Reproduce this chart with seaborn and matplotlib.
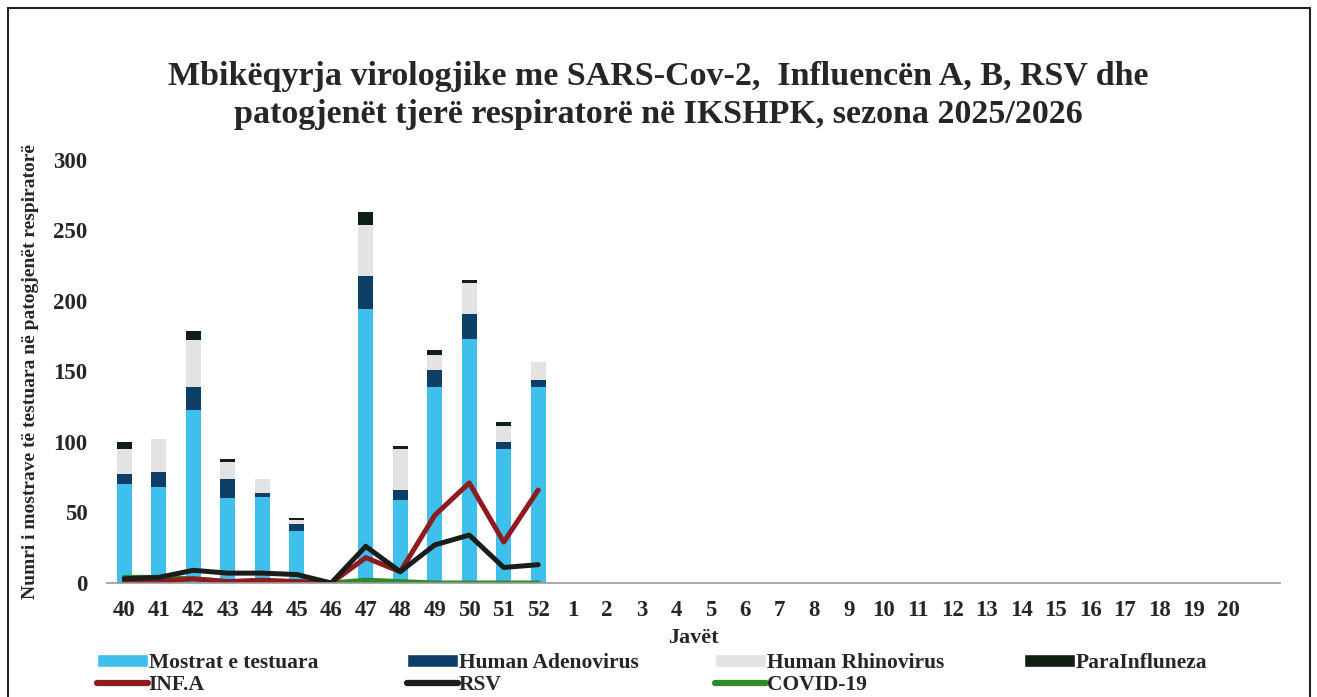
import numpy as np
import pandas as pd
import matplotlib
matplotlib.use("Agg")
import matplotlib.pyplot as plt
import seaborn as sns
from matplotlib.patches import Patch, Rectangle
from matplotlib.lines import Line2D

weeks = ["40", "41", "42", "43", "44", "45", "46", "47", "48", "49", "50", "51", "52",
         "1", "2", "3", "4", "5", "6", "7", "8", "9", "10", "11", "12", "13", "14",
         "15", "16", "17", "18", "19", "20"]
nan = np.nan
mostrat = [70, 68, 123, 60, 61, 37, 0, 194, 59, 139, 173, 95, 139] + [nan] * 20
adeno = [7, 11, 16, 14, 3, 5, 0, 24, 7, 12, 18, 5, 5] + [nan] * 20
rhino = [18, 23, 33, 12, 10, 3, 0, 36, 29, 11, 22, 11, 13] + [nan] * 20
para = [5, 0, 7, 2, 0, 1, 0, 9, 2, 3, 2, 3, 0] + [nan] * 20
inf_a = [1, 1, 3, 1, 2, 1, 0, 18, 8, 48, 71, 29, 66] + [nan] * 20
rsv = [3, 4, 9, 7, 7, 6, 0, 26, 8, 27, 34, 11, 13] + [nan] * 20
covid = [4, 4, 3, 1, 1, 1, 0, 2, 1, 0, 0, 0, 0] + [nan] * 20

c_most = "#3fc0ec"
c_adeno = "#0d3e66"
c_rhino = "#e3e3e3"
c_para = "#0f1f12"
c_inf = "#8e1b1f"
c_rsv = "#1b1d1b"
c_cov = "#2f8a2a"

sns.set_theme(style="white")
plt.rcParams["font.family"] = ["Liberation Serif", "DejaVu Serif"]
plt.rcParams["font.weight"] = "bold"

fig = plt.figure(figsize=(13.17, 6.97), dpi=100)
ax = fig.add_axes([107 / 1317, 1 - 583 / 697, (1280 - 107) / 1317, (583 - 160) / 697])

df = pd.DataFrame({"week": weeks, "mostrat": mostrat, "adeno": adeno,
                   "rhino": rhino, "para": para, "inf_a": inf_a,
                   "rsv": rsv, "covid": covid})
df["pos"] = np.arange(len(weeks))
df["s1"] = df["mostrat"]
df["s2"] = df["s1"] + df["adeno"]
df["s3"] = df["s2"] + df["rhino"]
df["s4"] = df["s3"] + df["para"]

bw = 0.43
for col, colr in [("s4", c_para), ("s3", c_rhino), ("s2", c_adeno), ("s1", c_most)]:
    sns.barplot(data=df, x="week", y=col, order=weeks, color=colr,
                width=bw, saturation=1, ax=ax, errorbar=None, linewidth=0)

for col, colr in [("covid", c_cov), ("inf_a", c_inf), ("rsv", c_rsv)]:
    sns.lineplot(data=df.dropna(subset=[col]), x="pos", y=col, color=colr,
                 linewidth=3.6, ax=ax, legend=False)

ax.set_xlim(-0.5, 33.5)
ax.set_ylim(0, 300)
ax.set_yticks([0, 50, 100, 150, 200, 250, 300])
ax.set_xticks(np.arange(len(weeks)))
ax.set_xticklabels(weeks)
for s in ["left", "top", "right"]:
    ax.spines[s].set_visible(False)
ax.spines["bottom"].set_color("#9a9a9a")
ax.spines["bottom"].set_linewidth(1.2)
ax.tick_params(axis="both", length=0, labelsize=16.5)
ax.tick_params(axis="y", pad=14)
ax.tick_params(axis="x", pad=12)
for t in ax.get_xticklabels() + ax.get_yticklabels():
    t.set_fontweight("bold")
ax.set_xlabel("Javët", fontsize=16, fontweight="bold", labelpad=5)
ax.set_ylabel("Numri i mostrave të testuara në patogjenët respiratorë",
              fontsize=14, fontweight="bold", labelpad=10)
ax.grid(False)

fig.text(0.5, 1 - 76 / 697, "Mbikëqyrja virologjike me SARS-Cov-2,  Influencën A, B, RSV dhe",
         ha="center", va="center", fontsize=24.5, fontweight="bold")
fig.text(0.5, 1 - 115 / 697, "patogjenët tjerë respiratorë në IKSHPK, sezona 2025/2026",
         ha="center", va="center", fontsize=24.5, fontweight="bold")

cols = [
    ([Patch(facecolor=c_most), Line2D([0], [0], color=c_inf, lw=4.5)], ["Mostrat e testuara", "INF.A"], 97),
    ([Patch(facecolor=c_adeno), Line2D([0], [0], color=c_rsv, lw=4.5)], ["Human Adenovirus", "RSV"], 407),
    ([Patch(facecolor=c_rhino), Line2D([0], [0], color=c_cov, lw=4.5)], ["Human Rhinovirus", "COVID-19"], 715),
    ([Patch(facecolor=c_para)], ["ParaInfluneza"], 1024),
]
for handles, labels, xp in cols:
    leg = fig.legend(handles, labels, loc="upper left",
                     bbox_to_anchor=(xp / 1317, 1 - 653 / 697), frameon=False,
                     handlelength=2.35, handleheight=0.55, handletextpad=0.05,
                     labelspacing=0.08, borderpad=0, borderaxespad=0,
                     prop={"family": "Liberation Serif", "weight": "bold", "size": 15.5})

fig.patches.append(Rectangle((8 / 1317, -0.01), (1310 - 8) / 1317, 1 - 8 / 697 + 0.01,
                             transform=fig.transFigure, fill=False,
                             edgecolor="#222222", linewidth=1.5))

fig.savefig("out.png", dpi=100)
